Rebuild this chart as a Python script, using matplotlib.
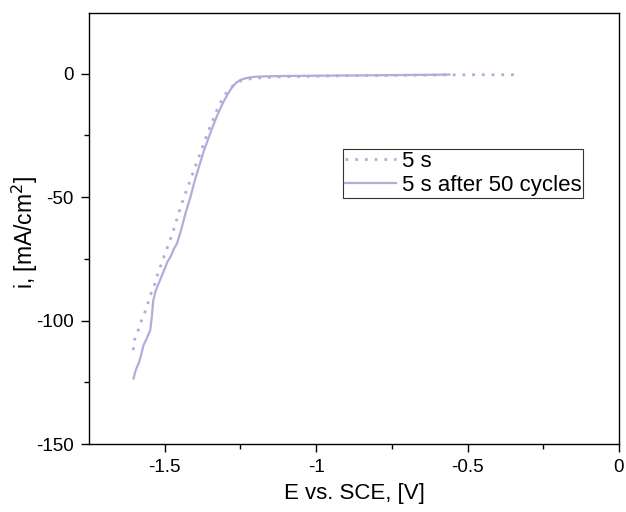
import matplotlib
matplotlib.use("Agg")
import matplotlib.pyplot as plt

plt.rcParams['font.family'] = ['Liberation Sans', 'DejaVu Sans']

# "5 s" (dotted)
x_5s = [-1.604, -1.600, -1.590, -1.580, -1.570, -1.560, -1.548, -1.535, -1.520, -1.505,
        -1.490, -1.475, -1.460, -1.445, -1.430, -1.415, -1.400, -1.385, -1.370, -1.355,
        -1.340, -1.325, -1.310, -1.295, -1.280, -1.265, -1.250, -1.235, -1.220, -1.200,
        -1.180, -1.150, -1.100, -1.050, -1.000, -0.950, -0.900, -0.850, -0.800, -0.750,
        -0.700, -0.650, -0.600, -0.550, -0.500, -0.450, -0.400, -0.350, -0.330]
y_5s = [-112, -108, -105, -101, -98, -95, -90, -86, -80, -75,
        -70, -65, -59, -53, -48, -43, -38, -33, -28, -23,
        -18.5, -14, -10.5, -7.5, -5.5, -4, -3, -2.6, -2.2, -1.9,
        -1.7, -1.5, -1.3, -1.2, -1.1, -1.0, -0.9, -0.85, -0.8, -0.75,
        -0.7, -0.65, -0.6, -0.55, -0.5, -0.5, -0.5, -0.5, -0.5]

# "5 s after 50 cycles" (solid)
x_50 = [-1.603, -1.598, -1.592, -1.585, -1.578, -1.570, -1.562, -1.555, -1.548, -1.543,
        -1.538, -1.530, -1.520, -1.510, -1.500, -1.490, -1.480, -1.470, -1.460, -1.445,
        -1.430, -1.415, -1.400, -1.385, -1.370, -1.355, -1.340, -1.325, -1.310, -1.295,
        -1.280, -1.265, -1.250, -1.235, -1.220, -1.200, -1.180, -1.150, -1.100, -1.000,
        -0.900, -0.800, -0.700, -0.600, -0.560]
y_50 = [-123.5, -121, -119, -117, -114, -110, -108, -106, -104, -99,
        -92, -88, -85, -82, -79, -76, -74, -71, -69, -63,
        -56, -50, -43, -37, -31, -26, -21, -16.5, -12.5, -9,
        -6, -3.8, -2.6, -2.0, -1.6, -1.3, -1.2, -1.1, -1.0, -0.9,
        -0.8, -0.7, -0.6, -0.5, -0.4]

labels = ["5 s", "5 s after 50 cycles"]
xticks = [-1.5, -1, -0.5, 0]
xticklabels = ["-1.5", "-1", "-0.5", "0"]
yticks = [0, -50, -100, -150]
yticklabels = ["0", "-50", "-100", "-150"]

color = '#b0aed8'

fig = plt.figure(figsize=(6.26, 5.12), dpi=100)
ax = fig.add_axes([89/626, 1 - 444/512, 530/626, 431/512])

ax.plot(x_5s, y_5s, color=color, lw=2, linestyle=(0, (1, 2.5)), label=labels[0])
ax.plot(x_50, y_50, color=color, lw=1.6, linestyle='-', label=labels[1])

ax.set_xlim(-1.75, 0)
ax.set_ylim(-150, 24.5)
ax.set_xticks(xticks)
ax.set_xticklabels(xticklabels)
ax.set_yticks(yticks)
ax.set_yticklabels(yticklabels)
ax.set_xticks([-1.25, -0.75, -0.25], minor=True)
ax.set_yticks([-25, -75, -125], minor=True)
ax.tick_params(which='major', direction='out', length=6, width=1, labelsize=13.5, pad=5)
ax.tick_params(which='minor', direction='out', length=3.6, width=1)
for s in ax.spines.values():
    s.set_linewidth(1)

ax.set_xlabel("E vs. SCE, [V]", fontsize=16, labelpad=4.5)
ax.set_ylabel("i, [mA/cm$^2$]", fontsize=16.5)
ax.yaxis.set_label_coords(-0.093, 0.492)

leg = ax.legend(loc='upper left', bbox_to_anchor=(0.479, 0.685), fontsize=16,
                frameon=True, fancybox=False, edgecolor='#333333', framealpha=1,
                borderaxespad=0, borderpad=0.1, handlelength=2.27, handletextpad=0.27,
                labelspacing=0.12)
leg.get_frame().set_linewidth(0.8)

fig.savefig("out.png", dpi=100)
